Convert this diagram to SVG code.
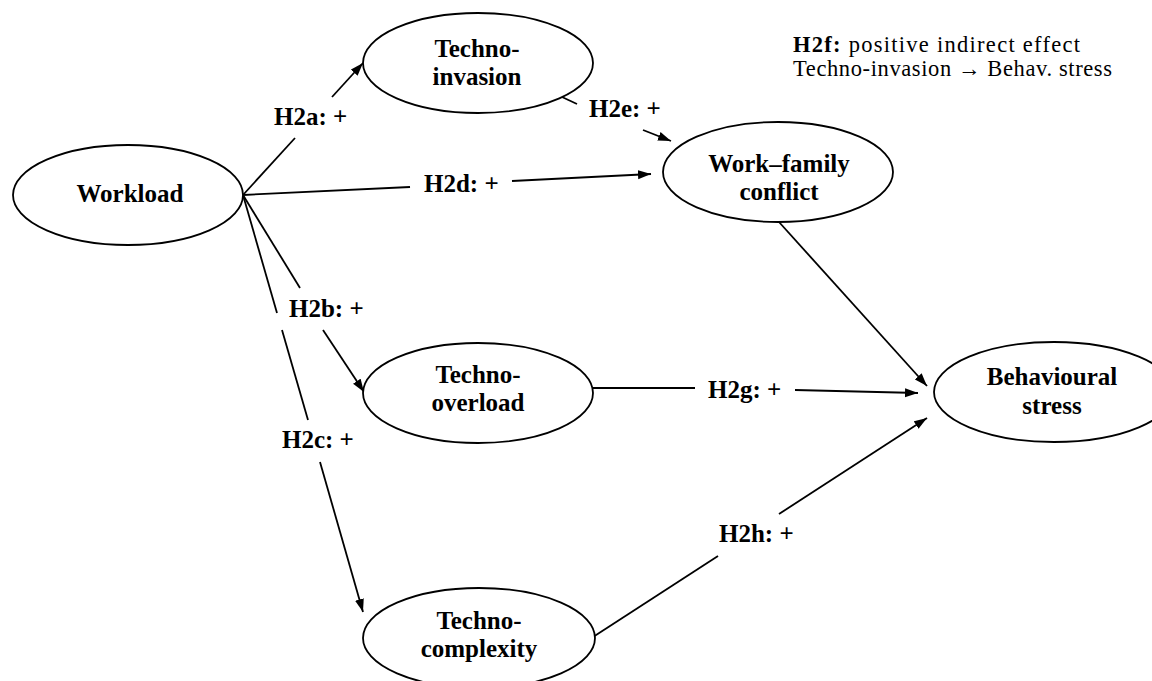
<svg xmlns="http://www.w3.org/2000/svg" width="1152" height="681" viewBox="0 0 1152 681">
<defs>
<marker id="ah" markerUnits="userSpaceOnUse" markerWidth="14" markerHeight="10" refX="13" refY="4.5" orient="auto">
<path d="M0,0 L13,4.5 L0,9 z" fill="#000"/>
</marker>
<style>
.node ellipse{fill:#fff;stroke:#000;stroke-width:1.8}
.node text{font-family:"Liberation Serif","DejaVu Serif",serif;font-weight:bold;font-size:25px;text-anchor:middle;fill:#000}
.conn path{fill:none;stroke:#000;stroke-width:1.8}
.lbl{font-family:"Liberation Serif","DejaVu Serif",serif;font-weight:bold;font-size:25px;fill:#000}
.note{font-family:"Liberation Serif","DejaVu Serif",serif;font-size:22.5px;fill:#000}
</style>
</defs>
<rect width="1152" height="681" fill="#fff"/>
<g id="connectors" class="conn">
<path d="M243,195 L295,138"/>
<path d="M332,97 L363,63" marker-end="url(#ah)"/>
<path d="M243,195 L410,187"/>
<path d="M512,181 L651,174" marker-end="url(#ah)"/>
<path d="M243,195 L300,288"/>
<path d="M323,330 L364,392" marker-end="url(#ah)"/>
<path d="M243,195 L277,313"/>
<path d="M282,330 L308,420"/>
<path d="M320,462 L363,612" marker-end="url(#ah)"/>
<path d="M562,97 L577,104"/>
<path d="M643,130 L671,141" marker-end="url(#ah)"/>
<path d="M779,222 L927,386" marker-end="url(#ah)"/>
<path d="M593,388 L695,388"/>
<path d="M795,390 L918,393" marker-end="url(#ah)"/>
<path d="M593,637 L718,556"/>
<path d="M779,514 L927,418" marker-end="url(#ah)"/>
</g>
<g id="labels">
<text class="lbl" x="274" y="125">H2a: +</text>
<text class="lbl" x="589" y="117">H2e: +</text>
<text class="lbl" x="424" y="192">H2d: +</text>
<text class="lbl" x="289" y="317">H2b: +</text>
<text class="lbl" x="282" y="448">H2c: +</text>
<text class="lbl" x="708" y="398">H2g: +</text>
<text class="lbl" x="719" y="542">H2h: +</text>
</g>
<g id="note">
<text class="note" x="793" y="52" textLength="287" lengthAdjust="spacing"><tspan font-weight="bold">H2f:</tspan> positive indirect effect</text>
<text class="note" x="793" y="76" textLength="319" lengthAdjust="spacing">Techno-invasion → Behav. stress</text>
</g>
<g id="workload" class="node">
<ellipse cx="128" cy="195" rx="115" ry="50"/>
<text x="130" y="202">Workload</text>
</g>
<g id="techno-invasion" class="node">
<ellipse cx="478" cy="63" rx="115" ry="50"/>
<text x="477" y="57">Techno-</text>
<text x="477" y="85">invasion</text>
</g>
<g id="work-family-conflict" class="node">
<ellipse cx="778" cy="172" rx="115" ry="50"/>
<text x="779" y="172">Work–family</text>
<text x="779" y="200">conflict</text>
</g>
<g id="techno-overload" class="node">
<ellipse cx="478" cy="393" rx="115" ry="50"/>
<text x="478" y="383">Techno-</text>
<text x="478" y="411">overload</text>
</g>
<g id="behavioural-stress" class="node">
<ellipse cx="1054" cy="392" rx="120" ry="50"/>
<text x="1052" y="385">Behavioural</text>
<text x="1052" y="414">stress</text>
</g>
<g id="techno-complexity" class="node">
<ellipse cx="479" cy="638" rx="116" ry="50"/>
<text x="479" y="629">Techno-</text>
<text x="479" y="657">complexity</text>
</g>
</svg>
